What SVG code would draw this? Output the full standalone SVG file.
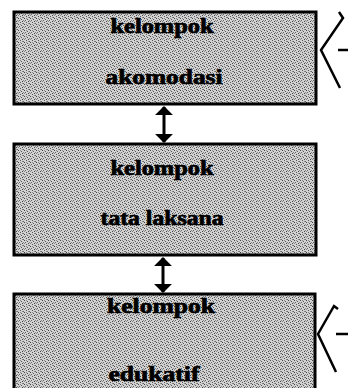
<svg xmlns="http://www.w3.org/2000/svg" width="348" height="388" viewBox="0 0 348 388">
  <defs>
    <!-- speckled halftone grey fill for the group boxes -->
    <pattern id="dither" width="6" height="6" patternUnits="userSpaceOnUse">
      <rect width="6" height="6" fill="#d2d2d2"/>
      <rect x="0" y="0" width="1" height="1" fill="#444"/>
      <rect x="3" y="1" width="1" height="1" fill="#555"/>
      <rect x="1" y="2" width="1" height="1" fill="#666"/>
      <rect x="4" y="3" width="1" height="1" fill="#444"/>
      <rect x="2" y="4" width="1" height="1" fill="#555"/>
      <rect x="5" y="5" width="1" height="1" fill="#666"/>
      <rect x="2" y="0" width="1" height="1" fill="#888"/>
      <rect x="5" y="2" width="1" height="1" fill="#888"/>
      <rect x="0" y="3" width="1" height="1" fill="#888"/>
      <rect x="4" y="5" width="1" height="1" fill="#888"/>
    </pattern>
    <marker id="head" viewBox="0 0 10 20" refX="9" refY="10" markerWidth="9" markerHeight="18" markerUnits="userSpaceOnUse" orient="auto-start-reverse">
      <path d="M0,0 L10,10 L0,20 Z" fill="#000"/>
    </marker>
  </defs>
  <style>
    .box { fill: url(#dither); stroke: #000; stroke-width: 3; }
    .lbl { font-family: "Liberation Serif", "Times New Roman", serif; font-weight: bold; font-size: 20px; fill: #000; stroke: #000; stroke-width: 0.7; text-anchor: middle; }
    .link { stroke: #000; stroke-width: 3; fill: none; }
    .brace { stroke: #000; stroke-width: 2.5; fill: none; stroke-linejoin: miter; }
  </style>

  <rect width="348" height="388" fill="#fff"/>

  <g id="akomodasi">
    <rect class="box" x="14" y="12" width="302" height="92"/>
    <text class="lbl" x="162" y="33" textLength="103" lengthAdjust="spacingAndGlyphs">kelompok</text>
    <text class="lbl" x="164" y="84" textLength="117" lengthAdjust="spacingAndGlyphs">akomodasi</text>
    <path class="brace" d="M339,12 L343,18 L321,50 L340,88"/>
    <path class="brace" d="M338,50 L348,50"/>
  </g>

  <g id="tata-laksana">
    <rect class="box" x="14" y="144" width="302" height="111"/>
    <text class="lbl" x="162" y="175" textLength="103" lengthAdjust="spacingAndGlyphs">kelompok</text>
    <text class="lbl" x="162" y="225" textLength="123" lengthAdjust="spacingAndGlyphs">tata laksana</text>
  </g>

  <g id="edukatif">
    <rect class="box" x="14" y="294" width="301" height="100"/>
    <text class="lbl" x="161" y="313" textLength="108" lengthAdjust="spacingAndGlyphs">kelompok</text>
    <text class="lbl" x="154" y="381" textLength="91" lengthAdjust="spacingAndGlyphs">edukatif</text>
    <path class="brace" d="M338,309 L334,306 L318,334 L336,372"/>
    <path class="brace" d="M336,334 L348,334"/>
  </g>

  <g id="connectors">
    <line class="link" x1="164" y1="107" x2="164" y2="142" marker-start="url(#head)" marker-end="url(#head)"/>
    <line class="link" x1="163" y1="258" x2="163" y2="292" marker-start="url(#head)" marker-end="url(#head)"/>
  </g>
</svg>
